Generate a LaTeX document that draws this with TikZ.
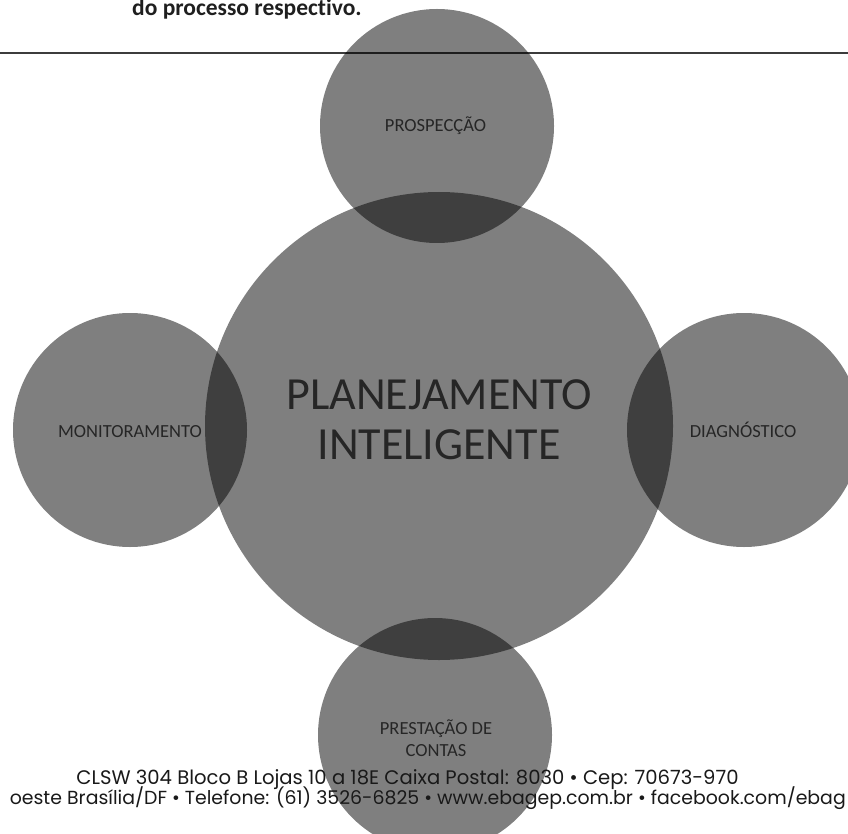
\documentclass[tikz,border=0pt]{standalone}
\usepackage{fontspec}
\setmainfont{Carlito}[Ligatures=CommonOff]
\newfontfamily\footfont{Poppins}
\definecolor{txtdark}{RGB}{38,38,38}
\definecolor{rulecol}{RGB}{60,60,60}
\begin{document}
\begin{tikzpicture}[x=1pt,y=-1pt,
  disc/.style={circle, inner sep=0pt, fill=black, fill opacity=0.5, draw=none},
  smalldisc/.style={disc, minimum size=234pt},
  lbl/.style={inner sep=0pt, text=txtdark, align=center, font=\fontsize{18.5}{21.5}\selectfont},
  biglbl/.style={inner sep=0pt, text=txtdark, align=center, font=\fontsize{46}{50}\selectfont},
  footer/.style={inner sep=0pt, text=black!90, font=\footfont\fontsize{19.6}{21}\selectfont},
]
\useasboundingbox (0,0) rectangle (848,834);
\clip (0,0) rectangle (848,834);
\coordinate (ruleL) at (0,53);
\coordinate (ruleR) at (848,53);
\draw[line width=1.2pt, draw=rulecol] (ruleL) -- (ruleR);
\node[anchor=base west, inner sep=0pt, text=black!88, font=\bfseries\fontsize{23.5}{28}\selectfont] (intro) at (132,16) {do processo respectivo.};
% circles
\node[disc, minimum size=468pt] (hub) at (439,426) {};
\node[smalldisc] (topc) at (437,126) {};
\node[smalldisc] (leftc) at (130,430) {};
\node[smalldisc] (rightc) at (744,430) {};
\node[smalldisc] (botc) at (435,735) {};
% labels
\node[biglbl] (hublbl) at (439,420) {PLANEJAMENTO\\INTELIGENTE};
\node[lbl, anchor=base] (toplbl) at (435.5,132) {PROSPECÇÃO};
\node[lbl, anchor=base] (leftlbl) at (130,437) {MONITORAMENTO};
\node[lbl, anchor=base] (rightlbl) at (743,437) {DIAGNÓSTICO};
\node[lbl] (botlbl) at (436,738) {PRESTAÇÃO DE\\CONTAS};
% footer
\node[footer, anchor=base] (addr1) at (407.5,784) {CLSW 304 Bloco B Lojas 10 a 18E Caixa Postal: 8030 • Cep: 70673-970};
\node[footer, anchor=base east, font=\footfont\fontsize{18.9}{21}\selectfont] (addr2) at (846,804) {oeste Brasília/DF • Telefone: (61) 3526-6825 • www.ebagep.com.br • facebook.com/ebag};
\end{tikzpicture}
\end{document}
